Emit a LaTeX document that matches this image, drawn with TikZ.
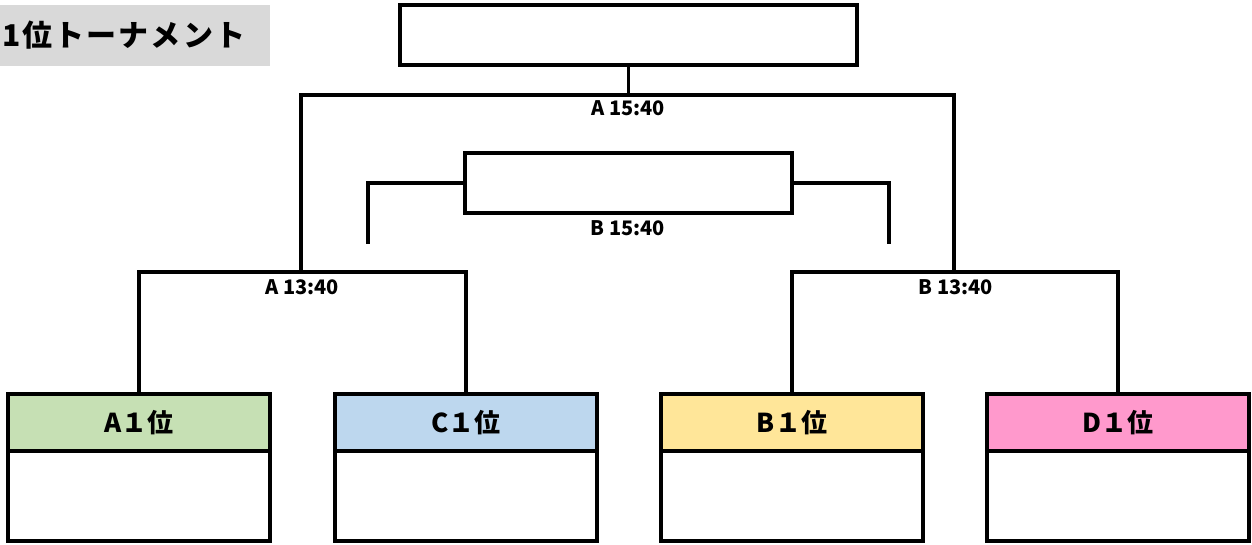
\documentclass[tikz,border=0pt]{standalone}
\usepackage{fontspec}
\setmainfont{Noto Sans CJK JP}
\definecolor{titlegray}{HTML}{D9D9D9}
\definecolor{hA}{HTML}{C6E0B4}
\definecolor{hC}{HTML}{BDD7EE}
\definecolor{hB}{HTML}{FFE699}
\definecolor{hD}{HTML}{FF99CC}
\tikzset{
  line/.style={line width=3.5pt, line cap=rect},
  matchbox/.style={draw, line width=3.5pt, inner sep=0pt, outer sep=0pt, anchor=north west},
  header/.style={draw, line width=3.5pt, inner sep=0pt, outer sep=0pt, anchor=north west, minimum width=262pt, minimum height=57pt, font=\fontsize{26}{26}\selectfont\bfseries},
  body/.style={draw, line width=3.5pt, inner sep=0pt, outer sep=0pt, anchor=north west, minimum width=262pt, minimum height=90pt, fill=white},
  timelabel/.style={inner sep=0pt, font=\fontsize{20}{20}\selectfont\bfseries},
}
\begin{document}
\begin{tikzpicture}[x=1pt,y=-1pt]
\useasboundingbox (0,0) rectangle (1252,545);
% title
\node[fill=titlegray, anchor=north west, minimum width=270pt, minimum height=61pt, inner sep=0pt] (titlebox) at (0,5) {};
\node[anchor=west, inner sep=0pt, font=\fontsize{30}{30}\selectfont\bfseries\addfontfeatures{LetterSpace=7}] (title) at (2,35) {1位トーナメント};
% final and third place boxes
\node[matchbox, minimum width=457pt, minimum height=60pt] (final) at (400,5) {};
\node[matchbox, minimum width=327pt, minimum height=60pt] (third) at (465,153) {};
% teams
\node[header, fill=hA] (A) at (8,394) {A１位};
\node[body] (Ab) at (8,451) {};
\node[header, fill=hC] (C) at (335,394) {C１位};
\node[body] (Cb) at (335,451) {};
\node[header, fill=hB] (B) at (661,394) {B１位};
\node[body] (Bb) at (661,451) {};
\node[header, fill=hD] (D) at (987,394) {D１位};
\node[body] (Db) at (987,451) {};
% coordinates
\coordinate (fL) at (301,95);
\coordinate (fR) at (954,95);
\coordinate (sL) at (301,272);
\coordinate (sR) at (954,272);
\coordinate (lvl) at (0,272);
\coordinate (tLe) at (368,242);
\coordinate (tRe) at (889,242);
% connectors
\draw[line] (final.south) -- (final.south |- fL);
\draw[line] (sL) -- (fL) -- (fR) -- (sR);
\draw[line] (A.north) -- (A.north |- lvl) -- (C.north |- lvl) -- (C.north);
\draw[line] (B.north) -- (B.north |- lvl) -- (D.north |- lvl) -- (D.north);
\draw[line] (third.west) -- (third.west -| tLe) -- (tLe);
\draw[line] (third.east) -- (third.east -| tRe) -- (tRe);
% labels
\node[timelabel] (l1) at (628,108) {A 15:40};
\node[timelabel] (l2) at (628,228) {B 15:40};
\node[timelabel] (l3) at (302,287) {A 13:40};
\node[timelabel] (l4) at (956,287) {B 13:40};
\end{tikzpicture}
\end{document}
